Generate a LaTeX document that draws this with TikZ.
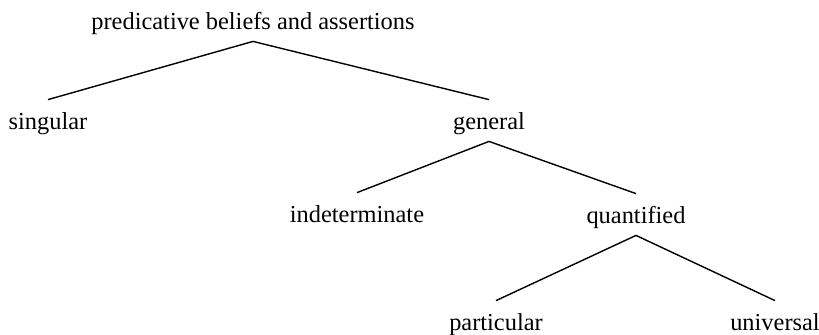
\documentclass[tikz,border=0pt]{standalone}
\usepackage{fontspec}
\setmainfont{Liberation Serif}
\usepackage{tikz}

\begin{document}
\begin{tikzpicture}[x=0.5pt, y=-0.5pt, anchor=base]

		\useasboundingbox (0,0) rectangle (819,334);

		\tikzset{mot/.style={inner sep=0pt, text height=14.5pt, text depth=6pt,
			font=\fontsize{12.2}{14}\selectfont}}

		\newcommand{\mkbranch}[2]{
			%relier le pere et le fils
			\draw[line width=0.7pt] (#1.south) -- (#2.north);
		}

		%les noeuds
		\node[mot] (pred) at (253,29) {predicative beliefs and assertions};
		\node[mot] (sing) at (48,129) {singular};
		\node[mot] (gen) at (489,129) {general};
		\node[mot] (indet) at (357,222) {indeterminate};
		\node[mot] (quant) at (636,223) {quantified};
		\node[mot] (part) at (496,330) {particular};
		\node[mot] (univ) at (775,330) {universal};

		\mkbranch{pred}{sing}
		\mkbranch{pred}{gen}
		\mkbranch{gen}{indet}
		\mkbranch{gen}{quant}
		\mkbranch{quant}{part}
		\mkbranch{quant}{univ}

\end{tikzpicture}
\end{document}
